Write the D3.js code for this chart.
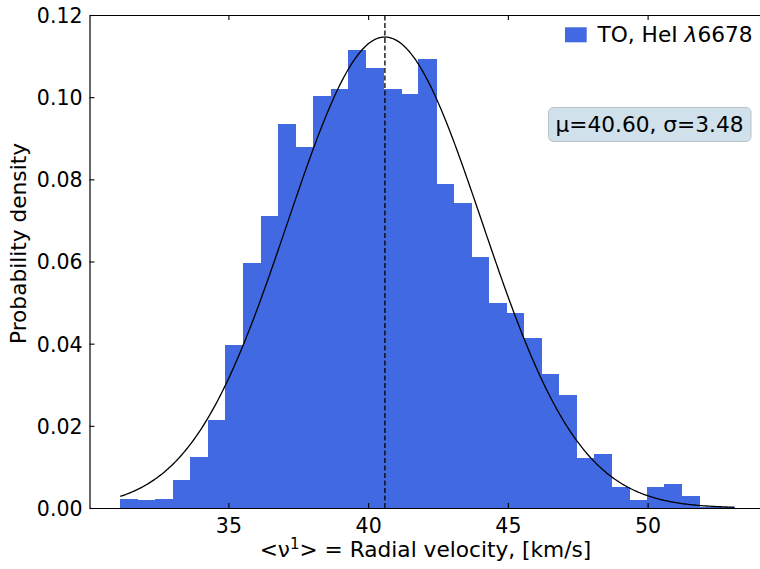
<!DOCTYPE html>
<html><head><meta charset="utf-8">
<script src="https://cdn.jsdelivr.net/npm/d3@7"></script>
<style>
body{margin:0;background:#fff;}
svg{display:block;font-family:"DejaVu Sans",sans-serif;}
</style></head><body>
<svg id="chart" width="760" height="569"></svg>
<script>
// ---- data ----
const binStart = 31.13;
const binWidth = 0.6277;
const densities = [0.0023, 0.0019, 0.0023, 0.0067, 0.0123, 0.0213, 0.0396, 0.0596, 0.0711, 0.0934,
  0.0879, 0.1003, 0.1020, 0.1115, 0.1071, 0.1020, 0.1007, 0.1093, 0.0789, 0.0742,
  0.0610, 0.0500, 0.0474, 0.0413, 0.0327, 0.0276, 0.0122, 0.0132, 0.0050, 0.0019,
  0.0050, 0.0059, 0.0028, 0.0003, 0.0003];
const mu = 40.60;
const sigma = 3.48;
const xTicks = [35, 40, 45, 50];
const yTicks = [0.00, 0.02, 0.04, 0.06, 0.08, 0.10, 0.12];
const legendLabel = "TO, HeI ";
const legendLambda = "λ";
const legendNum = "6678";
const statsLabel = "μ=40.60, σ=3.48";

// ---- layout ----
const L = 89.5, R = 765, T = 15, B = 508;
const svg = d3.select("#chart");
const x = d3.scaleLinear().domain([30.03, 54.2]).range([L, R]);
const y = d3.scaleLinear().domain([0, 0.12]).range([B, T]);

const bins = densities.map((d, i) => ({x0: binStart + i*binWidth, x1: binStart + (i+1)*binWidth, v: d}));

// bars
svg.append("g").attr("shape-rendering", "crispEdges").selectAll("rect").data(bins).join("rect")
  .attr("x", d => x(d.x0))
  .attr("width", d => x(d.x1) - x(d.x0) + 0.6)
  .attr("y", d => y(d.v))
  .attr("height", d => y(0) - y(d.v))
  .attr("fill", "#4169E1");

// normal curve
const lo = binStart, hi = binStart + densities.length*binWidth;
const pts = d3.range(0, 401).map(i => {
  const v = lo + (hi - lo)*i/400;
  return [v, Math.exp(-0.5*((v-mu)/sigma)**2)/(sigma*Math.sqrt(2*Math.PI))];
});
svg.append("path").datum(pts)
  .attr("d", d3.line().x(d => x(d[0])).y(d => y(d[1])))
  .attr("fill", "none").attr("stroke", "#000").attr("stroke-width", 1.3);

// dashed mean line
svg.append("line")
  .attr("x1", x(mu)).attr("x2", x(mu)).attr("y1", y(0)).attr("y2", T)
  .attr("stroke", "#000").attr("stroke-width", 1.3).attr("stroke-dasharray", "5,2.5");

// axes
const fs = 20.5, lfs = 21.7;
const gx = svg.append("g").attr("transform", `translate(0,${B})`)
  .call(d3.axisBottom(x).tickValues(xTicks).tickSizeInner(-5).tickSizeOuter(0).tickPadding(10).tickFormat(d3.format("d")));
const gxt = svg.append("g").attr("transform", `translate(0,${T})`)
  .call(d3.axisTop(x).tickValues(xTicks).tickSizeInner(-5).tickSizeOuter(0).tickFormat(""));
const gy = svg.append("g").attr("transform", `translate(${L},0)`)
  .call(d3.axisLeft(y).tickValues(yTicks).tickSizeInner(-5).tickSizeOuter(0).tickPadding(7).tickFormat(d3.format(".2f")));
const gyr = svg.append("g").attr("transform", `translate(${R},0)`)
  .call(d3.axisRight(y).tickValues(yTicks).tickSizeInner(-5).tickSizeOuter(0).tickFormat(""));
[gx, gxt, gy, gyr].forEach(g => {
  g.selectAll(".domain").attr("stroke", "#000").attr("stroke-width", 1.2);
  g.selectAll(".tick line").attr("stroke", "#000").attr("stroke-width", 1.1);
  g.selectAll("text").attr("font-size", fs).attr("font-family", "DejaVu Sans").attr("fill", "#000");
});
gy.selectAll(".tick text").attr("dy", "0.36em");

// axis labels
const xl = svg.append("text").attr("x", 425.5).attr("y", 557)
  .attr("text-anchor", "middle").attr("font-size", lfs).attr("fill", "#000");
xl.append("tspan").text("<ν");
xl.append("tspan").attr("font-size", 15).attr("dy", -8.5).text("1");
xl.append("tspan").attr("dy", 8.5).text("> = Radial velocity, [km/s]");

svg.append("text").attr("transform", `translate(26,${(T+B)/2 - 18}) rotate(-90)`)
  .attr("text-anchor", "middle").attr("font-size", lfs).attr("fill", "#000")
  .text("Probability density");

// legend
svg.append("rect").attr("x", 565).attr("y", 27.3).attr("width", 21.7).attr("height", 15).attr("fill", "#4169E1");
const lt = svg.append("text").attr("x", 597.5).attr("y", 41.5).attr("font-size", lfs).attr("fill", "#000");
lt.append("tspan").text(legendLabel);
lt.append("tspan").attr("font-style", "italic").text(legendLambda);
lt.append("tspan").text(legendNum);

// stats box
svg.append("rect").attr("x", 548.5).attr("y", 107.5).attr("width", 202.5).attr("height", 34)
  .attr("rx", 5).attr("fill", "#d0e1ec").attr("stroke", "#b8c2ca").attr("stroke-width", 1);
svg.append("text").attr("x", 649.5).attr("y", 131.5).attr("text-anchor", "middle")
  .attr("font-size", lfs).attr("fill", "#000").text(statsLabel);
</script>
</body></html>
